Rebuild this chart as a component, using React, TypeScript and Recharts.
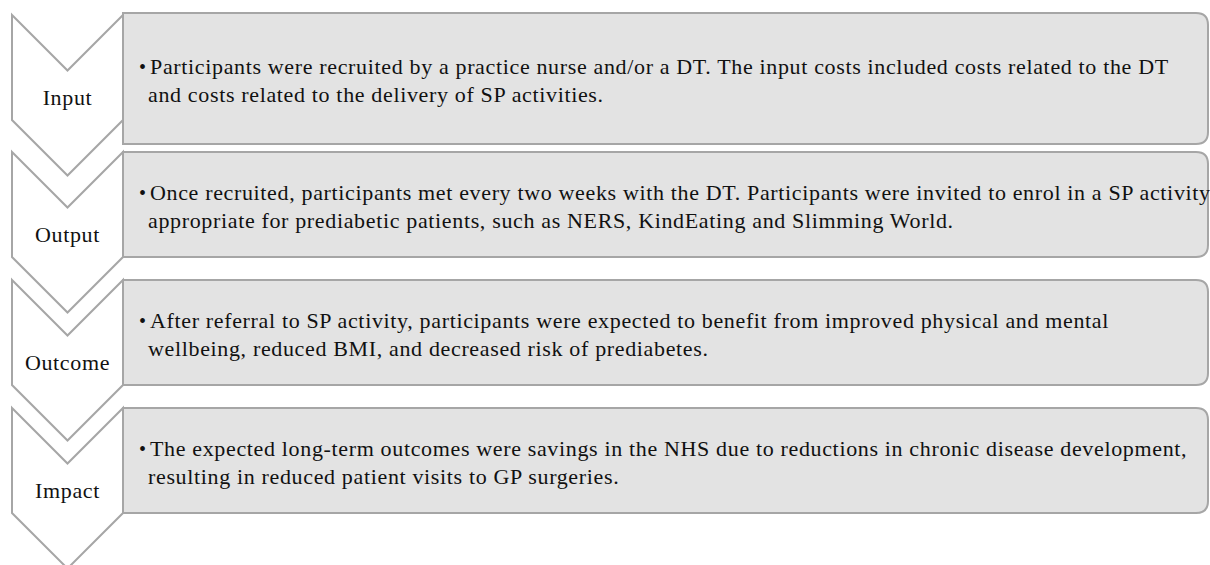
import { BarChart, Bar, XAxis, YAxis } from "recharts";

// logic model stages, top to bottom
const stages = ["Input", "Output", "Outcome", "Impact"];

// every stage fills its whole row
const rowSpan = [1, 1, 1, 1];

const descriptionLines = [
    [
        "Participants were recruited by a practice nurse and/or a DT. The input costs included costs related to the DT",
        "and costs related to the delivery of SP activities.",
    ],
    [
        "Once recruited, participants met every two weeks with the DT. Participants were invited to enrol in a SP activity",
        "appropriate for prediabetic patients, such as NERS, KindEating and Slimming World.",
    ],
    [
        "After referral to SP activity, participants were expected to benefit from improved physical and mental",
        "wellbeing, reduced BMI, and decreased risk of prediabetes.",
    ],
    [
        "The expected long-term outcomes were savings in the NHS due to reductions in chronic disease development,",
        "resulting in reduced patient visits to GP surgeries.",
    ],
];

const data = stages.map((stage, i) => ({
    stage,
    span: rowSpan[i],
    lines: descriptionLines[i],
}));

const FONT = "'Liberation Serif', 'Times New Roman', serif";
const FONT_SIZE = 22;
const SPACING = 0.65;
const LINE_GAP = 28;
const STROKE = "#a6a6a6";
const BOX_FILL = "#e3e3e3";
const INK = "#111";

function StageShape(props: any) {
    const { x, y: rowY, width, height, index, payload } = props;

    // the first row sits a little higher and its box runs down to the next row
    const lift = index === 0 ? 9 : 0;
    const y = rowY - lift;

    // chevron on the left
    const left = x + 12;
    const right = x + 123;
    const cx = (left + right) / 2;
    const half = (right - left) / 2;
    const side = 105;
    const chevron = [
        `M${left},${y}`,
        `L${cx},${y + half}`,
        `L${right},${y}`,
        `L${right},${y + side}`,
        `L${cx},${y + side + half}`,
        `L${left},${y + side}`,
        "Z",
    ].join(" ");

    // text box, rounded on the right side only
    const bx = right;
    const bTop = index === 0 ? y - 2 : y;
    const bBottom = index === 0 ? rowY + height - 8 : y + side;
    const bRight = x + width - 2;
    const r = 12;
    const box = [
        `M${bx},${bTop}`,
        `L${bRight - r},${bTop}`,
        `Q${bRight},${bTop} ${bRight},${bTop + r}`,
        `L${bRight},${bBottom - r}`,
        `Q${bRight},${bBottom} ${bRight - r},${bBottom}`,
        `L${bx},${bBottom}`,
        "Z",
    ].join(" ");

    const mid = (bTop + bBottom) / 2;
    const lines: string[] = payload.lines;
    const firstY = mid + 2 - ((lines.length - 1) * LINE_GAP) / 2;

    return (
        <g>
            <path d={chevron} fill="#ffffff" stroke={STROKE} strokeWidth={2} strokeLinejoin="miter" />
            <text
                x={cx}
                y={y + (half + side) / 2 + 2}
                textAnchor="middle"
                dominantBaseline="central"
                fontFamily={FONT}
                fontSize={FONT_SIZE}
                letterSpacing={SPACING}
                fill={INK}
            >
                {payload.stage}
            </text>
            <path d={box} fill={BOX_FILL} stroke={STROKE} strokeWidth={2} />
            <text
                x={bx + 16}
                y={firstY}
                dominantBaseline="central"
                fontFamily={FONT}
                fontSize={FONT_SIZE - 2}
                fill={INK}
            >
                •
            </text>
            {lines.map((line, i) => (
                <text
                    key={i}
                    x={bx + (i === 0 ? 27 : 25)}
                    y={firstY + i * LINE_GAP}
                    dominantBaseline="central"
                    fontFamily={FONT}
                    fontSize={FONT_SIZE}
                    letterSpacing={SPACING}
                    fill={INK}
                >
                    {line}
                </text>
            ))}
        </g>
    );
}

export default function App() {
    return (
        <div style={{ position: "absolute", left: 0, top: 0 }}>
            <BarChart
                width={1210}
                height={565}
                data={data}
                layout="vertical"
                barCategoryGap={0}
                margin={{ top: 24, right: 0, bottom: 29, left: 0 }}
            >
                <XAxis type="number" domain={[0, 1]} hide />
                <YAxis type="category" dataKey="stage" hide />
                <Bar
                    dataKey="span"
                    isAnimationActive={false}
                    shape={(p: any) => <StageShape {...p} />}
                />
            </BarChart>
        </div>
    );
}
